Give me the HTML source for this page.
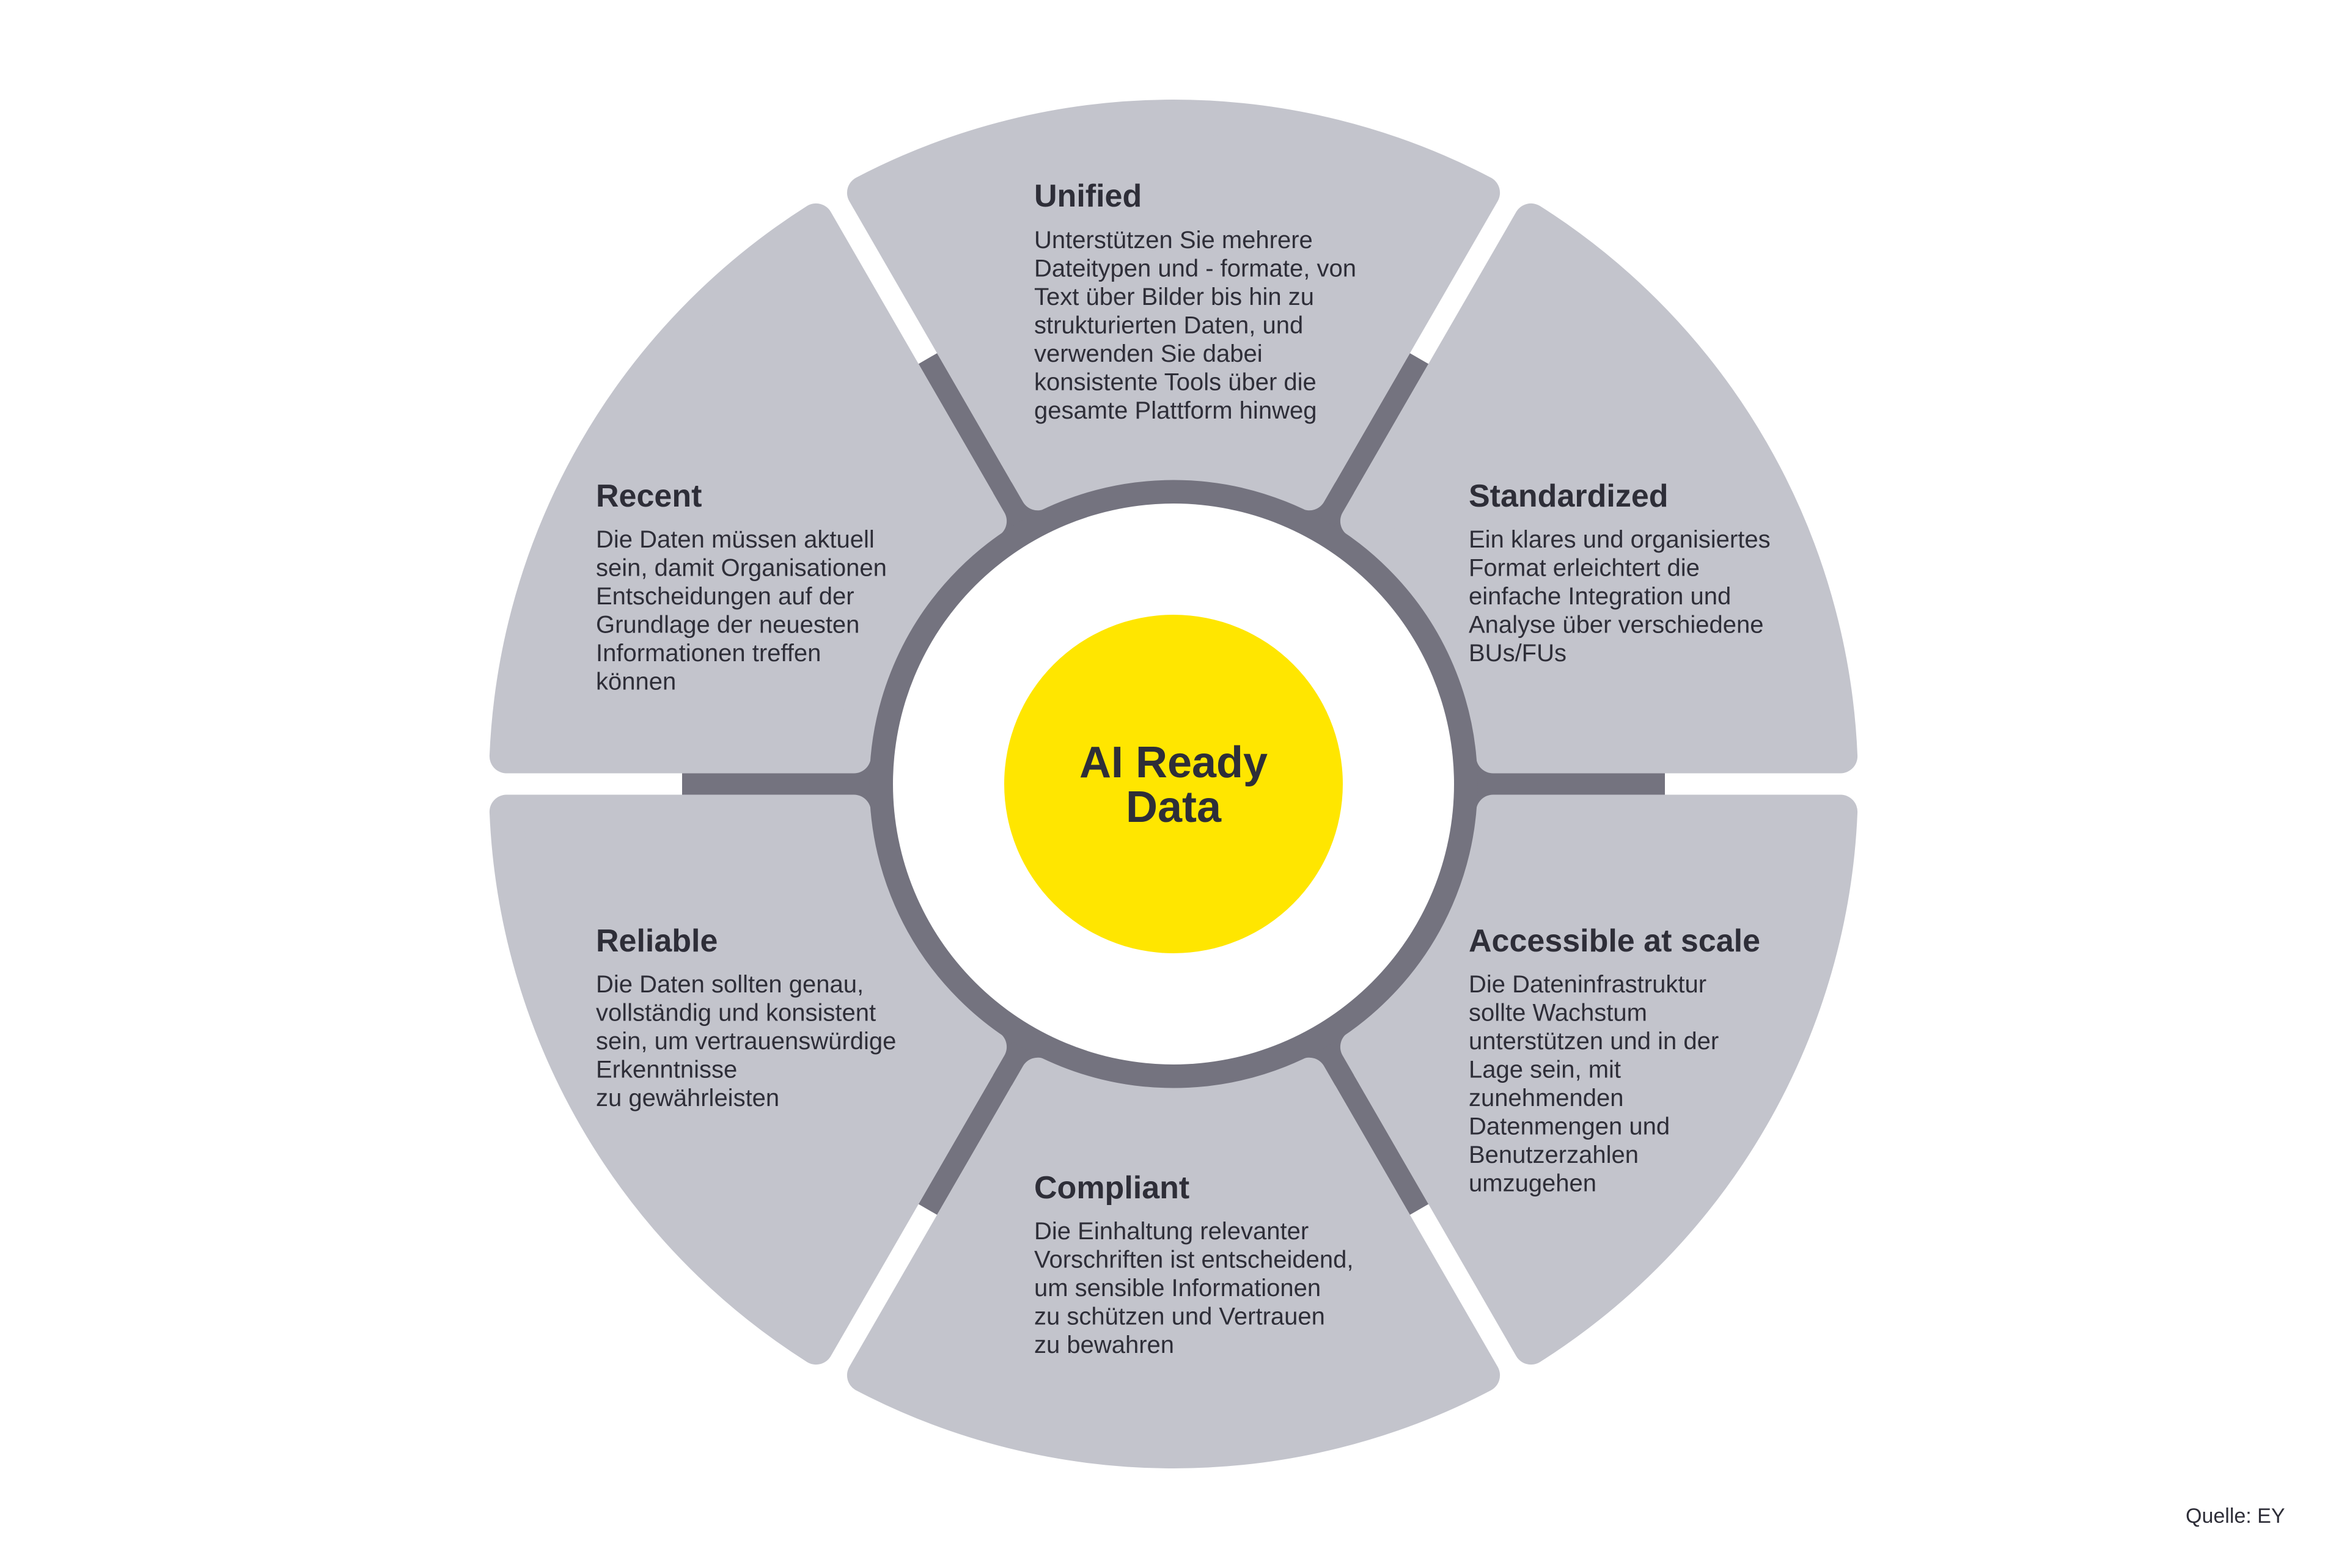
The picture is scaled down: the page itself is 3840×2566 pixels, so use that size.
<!DOCTYPE html>
<html><head><meta charset="utf-8">
<style>
html,body{margin:0;padding:0;background:#fff;}
svg{display:block;}
.t{font-family:"Liberation Sans",sans-serif;font-weight:bold;font-size:52px;fill:#2e2e38;}
.b{font-family:"Liberation Sans",sans-serif;font-size:40px;fill:#2e2e38;}
.c{font-family:"Liberation Sans",sans-serif;font-weight:bold;font-size:72px;fill:#2e2e38;}
.q{font-family:"Liberation Sans",sans-serif;font-size:34px;fill:#2e2e38;}
</style></head>
<body>
<svg id="s" width="3840" height="2566" viewBox="0 0 3840 2566" xmlns="http://www.w3.org/2000/svg">
<g id="bg">
<circle cx="1920" cy="1283" r="560" fill="#74737f"/>
<line x1="1116" y1="1283" x2="2724" y2="1283" stroke="#74737f" stroke-width="35"/>
<line x1="1518" y1="1979.3" x2="2322" y2="586.7" stroke="#74737f" stroke-width="35"/>
<line x1="1518" y1="586.7" x2="2322" y2="1979.3" stroke="#74737f" stroke-width="35"/>
</g>
<g id="segs"></g>
<circle cx="1920" cy="1283" r="478" fill="none" stroke="#74737f" stroke-width="39"/>
<circle cx="1920" cy="1283" r="459" fill="#fff"/>
<circle cx="1920" cy="1283" r="277" fill="#ffe600"/>
<text class="c" x="1920" y="1272" text-anchor="middle">AI Ready</text>
<text class="c" x="1920" y="1345" text-anchor="middle">Data</text>

<text class="t" x="1692" y="338">Unified</text>
<text class="b" x="1692" y="406">Unterstützen Sie mehrere</text>
<text class="b" x="1692" y="452.5">Dateitypen und - formate, von</text>
<text class="b" x="1692" y="499">Text über Bilder bis hin zu</text>
<text class="b" x="1692" y="545.5">strukturierten Daten, und</text>
<text class="b" x="1692" y="592">verwenden Sie dabei</text>
<text class="b" x="1692" y="638.5">konsistente Tools über die</text>
<text class="b" x="1692" y="685">gesamte Plattform hinweg</text>

<text class="t" x="975" y="829">Recent</text>
<text class="b" x="975" y="896">Die Daten müssen aktuell</text>
<text class="b" x="975" y="942.5">sein, damit Organisationen</text>
<text class="b" x="975" y="989">Entscheidungen auf der</text>
<text class="b" x="975" y="1035.5">Grundlage der neuesten</text>
<text class="b" x="975" y="1082">Informationen treffen</text>
<text class="b" x="975" y="1128.5">können</text>

<text class="t" x="2403" y="829">Standardized</text>
<text class="b" x="2403" y="896">Ein klares und organisiertes</text>
<text class="b" x="2403" y="942.5">Format erleichtert die</text>
<text class="b" x="2403" y="989">einfache Integration und</text>
<text class="b" x="2403" y="1035.5">Analyse über verschiedene</text>
<text class="b" x="2403" y="1082">BUs/FUs</text>

<text class="t" x="975" y="1557">Reliable</text>
<text class="b" x="975" y="1624">Die Daten sollten genau,</text>
<text class="b" x="975" y="1670.5">vollständig und konsistent</text>
<text class="b" x="975" y="1717">sein, um vertrauenswürdige</text>
<text class="b" x="975" y="1763.5">Erkenntnisse</text>
<text class="b" x="975" y="1810">zu gewährleisten</text>

<text class="t" x="2403" y="1557">Accessible at scale</text>
<text class="b" x="2403" y="1624">Die Dateninfrastruktur</text>
<text class="b" x="2403" y="1670.5">sollte Wachstum</text>
<text class="b" x="2403" y="1717">unterstützen und in der</text>
<text class="b" x="2403" y="1763.5">Lage sein, mit</text>
<text class="b" x="2403" y="1810">zunehmenden</text>
<text class="b" x="2403" y="1856.5">Datenmengen und</text>
<text class="b" x="2403" y="1903">Benutzerzahlen</text>
<text class="b" x="2403" y="1949.5">umzugehen</text>

<text class="t" x="1692" y="1961">Compliant</text>
<text class="b" x="1692" y="2028">Die Einhaltung relevanter</text>
<text class="b" x="1692" y="2074.5">Vorschriften ist entscheidend,</text>
<text class="b" x="1692" y="2121">um sensible Informationen</text>
<text class="b" x="1692" y="2167.5">zu schützen und Vertrauen</text>
<text class="b" x="1692" y="2214">zu bewahren</text>

<text class="q" x="3576" y="2492">Quelle: EY</text>
</svg>
<script>
(function(){
var cx=1920,cy=1283,c=28,Ro=1120-c,Ri=497+c,d=17.5+c,g=document.getElementById('segs'),out='';
function pt(a,R,sign){var r=a*Math.PI/180,t=Math.sqrt(R*R-d*d);
 var ux=Math.cos(r),uy=Math.sin(r),nx=-uy*sign,ny=ux*sign;
 var x=t*ux+d*nx,y=t*uy+d*ny;return (cx+x).toFixed(1)+' '+(cy-y).toFixed(1);}
for(var k=0;k<6;k++){var a1=60*k,a2=a1+60;
 var p='M'+pt(a1,Ri,1)+' L'+pt(a1,Ro,1)+' A'+Ro+' '+Ro+' 0 0 0 '+pt(a2,Ro,-1)+' L'+pt(a2,Ri,-1)+' A'+Ri+' '+Ri+' 0 0 1 '+pt(a1,Ri,1)+' Z';
 out+='<path d="'+p+'" fill="#c3c4cc" stroke="#c3c4cc" stroke-width="'+(2*c)+'" stroke-linejoin="round"/>';}
g.innerHTML=out;})();
</script>
</body></html>
